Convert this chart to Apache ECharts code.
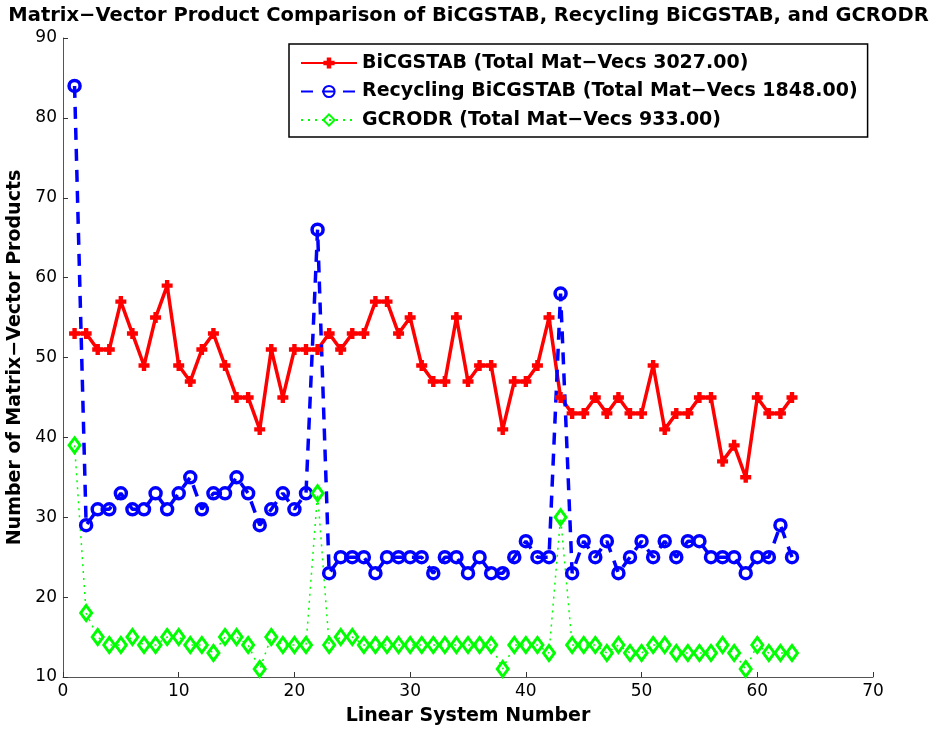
<!DOCTYPE html>
<html>
<head>
<meta charset="utf-8">
<script src="https://cdn.jsdelivr.net/npm/echarts@6/dist/echarts.min.js"></script>
<style>
  html, body { margin: 0; padding: 0; background: #fff; }
  #chart { width: 937px; height: 729px; }
</style>
</head>
<body>
<div id="chart"></div>
<script>
// linear system numbers 1..63
const systems = [];
for (let i = 1; i <= 63; i++) systems.push(i);

const bicgstab = [
  53, 53, 51, 51, 57, 53, 49, 55, 59, 49,
  47, 51, 53, 49, 45, 45, 41, 51, 45, 51,
  51, 51, 53, 51, 53, 53, 57, 57, 53, 55,
  49, 47, 47, 55, 47, 49, 49, 41, 47, 47,
  49, 55, 45, 43, 43, 45, 43, 45, 43, 43,
  49, 41, 43, 43, 45, 45, 37, 39, 35, 45,
  43, 43, 45
];

const recycling = [
  84, 29, 31, 31, 33, 31, 31, 33, 31, 33,
  35, 31, 33, 33, 35, 33, 29, 31, 33, 31,
  33, 66, 23, 25, 25, 25, 23, 25, 25, 25,
  25, 23, 25, 25, 23, 25, 23, 23, 25, 27,
  25, 25, 58, 23, 27, 25, 27, 23, 25, 27,
  25, 27, 25, 27, 27, 25, 25, 25, 23, 25,
  25, 29, 25
];

const gcrodr = [
  39, 18, 15, 14, 14, 15, 14, 14, 15, 15,
  14, 14, 13, 15, 15, 14, 11, 15, 14, 14,
  14, 33, 14, 15, 15, 14, 14, 14, 14, 14,
  14, 14, 14, 14, 14, 14, 14, 11, 14, 14,
  14, 13, 30, 14, 14, 14, 13, 14, 13, 13,
  14, 14, 13, 13, 13, 13, 14, 13, 11, 14,
  13, 13, 13
];

const seriesNames = [
  'BiCGSTAB (Total Mat\u2212Vecs 3027.00)',
  'Recycling BiCGSTAB (Total Mat\u2212Vecs 1848.00)',
  'GCRODR (Total Mat\u2212Vecs 933.00)'
];

const pairs = (ys) => ys.map((v, i) => [systems[i], v]);

const font = 'DejaVu Sans, Verdana, sans-serif';
const plus = 'path://M-2,-5H2V-2H5V2H2V5H-2V2H-5V-2H-2Z';

const chart = echarts.init(document.getElementById('chart'));

chart.setOption({
  animation: false,
  backgroundColor: '#fff',
  title: {
    text: 'Matrix\u2212Vector Product Comparison of BiCGSTAB, Recycling BiCGSTAB, and GCRODR',
    left: 'center',
    top: 1,
    textStyle: { fontFamily: font, fontWeight: 'bold', fontSize: 19.5, color: '#000' }
  },
  grid: { left: 63, right: 64, top: 38, bottom: 52, outerBoundsMode: 'none' },
  legend: {
    orient: 'vertical',
    left: 289,
    top: 44,
    itemWidth: 56,
    itemHeight: 14,
    itemGap: 8.5,
    padding: [9, 10, 7, 11],
    borderColor: '#000',
    borderWidth: 1.5,
    backgroundColor: '#fff',
    textStyle: { fontFamily: font, fontWeight: 'bold', fontSize: 19, lineHeight: 20, color: '#000' },
    data: seriesNames
  },
  xAxis: {
    type: 'value',
    min: 0,
    max: 70,
    interval: 10,
    name: 'Linear System Number',
    nameLocation: 'middle',
    nameGap: 30,
    nameTextStyle: { fontFamily: font, fontWeight: 'bold', fontSize: 19, color: '#000' },
    axisLine: { lineStyle: { color: '#555', width: 1 } },
    axisTick: { inside: true, length: 5, lineStyle: { color: '#333' } },
    axisLabel: { fontFamily: font, fontSize: 17, color: '#000', margin: 6 },
    splitLine: { show: false }
  },
  yAxis: {
    type: 'value',
    min: 10,
    max: 90,
    interval: 10,
    name: 'Number of Matrix\u2212Vector Products',
    nameLocation: 'middle',
    nameGap: 36,
    nameTextStyle: { fontFamily: font, fontWeight: 'bold', fontSize: 19, color: '#000' },
    axisLine: { lineStyle: { color: '#555', width: 1 } },
    axisTick: { inside: true, length: 5, lineStyle: { color: '#333' } },
    axisLabel: { fontFamily: font, fontSize: 17, color: '#000', margin: 6 },
    splitLine: { show: false }
  },
  series: [
    {
      name: seriesNames[0],
      type: 'line',
      data: pairs(bicgstab),
      symbol: plus,
      symbolSize: 11,
      color: '#ff0000',
      itemStyle: { color: '#ff0000' },
      lineStyle: { color: '#ff0000', width: 3.5 }
    },
    {
      name: seriesNames[1],
      type: 'line',
      data: pairs(recycling),
      symbol: 'circle',
      symbolSize: 11,
      color: '#0000ff',
      itemStyle: { color: 'rgba(0,0,0,0)', borderColor: '#0000ff', borderWidth: 3.5 },
      lineStyle: { color: '#0000ff', width: 3.5, type: [12, 9] }
    },
    {
      name: seriesNames[2],
      type: 'line',
      data: pairs(gcrodr),
      symbol: 'diamond',
      symbolSize: [11, 15],
      color: '#00ff00',
      itemStyle: { color: 'rgba(0,0,0,0)', borderColor: '#00ff00', borderWidth: 3 },
      lineStyle: { color: '#00ff00', width: 1.5, type: [2, 5] }
    }
  ]
});
</script>
</body>
</html>
